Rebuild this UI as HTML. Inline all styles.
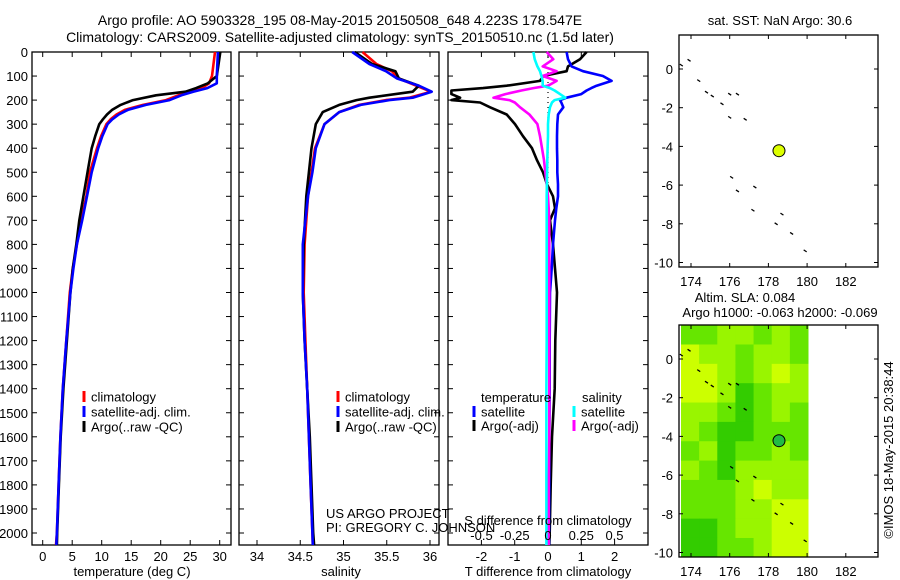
<!DOCTYPE html>
<html><head><meta charset="utf-8">
<style>
html,body{margin:0;padding:0;background:#fff;}
svg{display:block;font-family:"Liberation Sans",sans-serif;}
text{fill:#000;}
</style></head>
<body>
<svg id="c" width="900" height="580" viewBox="0 0 900 580" xmlns="http://www.w3.org/2000/svg">
<text x="340" y="25" font-size="14" text-anchor="middle">Argo profile: AO 5903328_195 08-May-2015 20150508_648 4.223S 178.547E</text>
<text x="340" y="42" font-size="14" text-anchor="middle">Climatology: CARS2009. Satellite-adjusted climatology: synTS_20150510.nc (1.5d later)</text>
<g id="g"></g>
</svg>
<script>
// ---------- data ----------
const depthTicks=[0,100,200,300,400,500,600,700,800,900,1000,1100,1200,1300,1400,1500,1600,1700,1800,1900,2000];
const tempTicks=[0,5,10,15,20,25,30];
const salTicks=[34,34.5,35,35.5,36];
const tdTicks=[-2,-1,0,1,2];
const sdTicks=[-0.5,-0.25,0,0.25,0.5];
const sdTickLabels=["-0.5","-0.25","0","0.25","0.5"];

const tDepth=[0,100,130,150,165,180,200,220,240,260,280,300,350,400,500,600,700,800,900,1000,1200,1400,1600,1800,2000,2050];
const tempClim=[29.2,28.7,28.2,27.0,25.0,23.0,20.9,17.0,14.0,12.5,11.5,10.8,9.9,9.2,8.0,7.4,6.5,5.8,5.1,4.6,4.0,3.4,3.0,2.7,2.4,2.25];
const tempSat=[29.7,29.5,29.5,27.9,25.5,23.5,21.5,17.5,14.5,12.9,11.8,11.0,10.1,9.4,8.3,7.5,6.7,5.8,5.2,4.7,4.0,3.4,3.0,2.7,2.4,2.3];
const tempArgo=[30.1,29.5,28.0,26.0,24.2,19.2,15.3,13.2,11.8,10.9,10.2,9.6,8.9,8.3,7.6,6.9,6.2,5.7,5.1,4.7,4.1,3.5,3.05,2.75,2.45,2.4];

const sDepth=[0,50,80,110,140,165,190,200,220,250,300,400,500,600,800,1000,1200,1400,1600,1800,2000,2050];
const salClim=[35.22,35.38,35.56,35.64,35.84,36.01,35.76,35.49,35.18,34.95,34.78,34.67,34.63,34.59,34.55,34.54,34.56,34.58,34.60,34.62,34.64,34.645];
const salSat=[35.10,35.30,35.49,35.62,35.87,36.02,35.80,35.53,35.20,34.95,34.78,34.68,34.64,34.59,34.53,34.53,34.55,34.58,34.60,34.62,34.64,34.645];
const salArgo=[35.13,35.33,35.60,35.64,35.87,35.80,35.30,35.15,34.95,34.76,34.68,34.63,34.60,34.57,34.54,34.53,34.55,34.58,34.61,34.63,34.65,34.66];

const dDepth=[0,30,60,80,100,120,140,150,160,175,190,200,210,230,260,300,350,400,450,500,550,600,650,700,800,900,1000,1200,1400,1600,1800,2000,2050];
const tdArgo=[1.16,0.96,0.6,0.56,-0.15,-0.24,-1.24,-1.95,-2.9,-2.9,-2.64,-2.9,-2.04,-1.74,-1.24,-0.99,-0.75,-0.48,-0.33,-0.15,-0.03,0.15,0.21,0.06,0.15,0.21,0.27,0.22,0.2,0.12,0.08,0.05,0.04];
const tdSat=[0.56,0.6,0.71,1.05,1.65,1.91,1.46,1.3,1.16,1.0,0.56,0.36,0.4,0.46,0.3,0.28,0.27,0.27,0.28,0.28,0.3,0.3,0.25,0.21,0.15,0.11,0.06,0.05,0.05,0.04,0.04,0.03,0.03];
const sdArgo=[-0.01,0.04,-0.04,0.065,-0.04,0.065,0.0,-0.11,-0.2,-0.32,-0.41,-0.29,-0.25,-0.21,-0.14,-0.08,-0.06,-0.045,-0.03,-0.02,-0.01,0,0.005,0.01,0.01,0.01,0.01,0.01,0.01,0.01,0.005,0.005,0.005];
const sdSat=[-0.11,-0.1,-0.08,-0.06,-0.05,-0.04,-0.04,0.015,0.05,0.09,0.13,0.05,0.03,0.015,0.005,0,0,-0.003,-0.005,-0.007,-0.008,-0.01,-0.01,-0.01,-0.01,-0.01,-0.01,-0.01,-0.012,-0.012,-0.012,-0.012,-0.012];

const lonTicks=[174,176,178,180,182];
const latTicks=[0,-2,-4,-6,-8,-10];
const trackLon=[173.5,173.9,174.4,174.8,175.1,175.6,176.0,176.4,176.0,176.8,176.1,176.4,177.3,177.2,178.4,178.7,179.2,179.9];
const trackLat=[0.2,0.45,-0.6,-1.2,-1.4,-1.8,-1.3,-1.3,-2.5,-2.6,-5.6,-6.3,-6.1,-7.3,-8.0,-7.5,-8.5,-9.4];
const floatLon=[178.547];
const floatLat=[-4.223];
// SLA grid (levels 0 dark green..3 yellow), rows from lat 1.75 down in 1deg steps, cols from lon 173.4
const slaGrid=[
[1,1,2,2,1,2,1],
[3,2,2,1,2,2,1],
[3,3,2,1,2,3,2],
[3,3,2,0,1,2,2],
[2,2,1,0,1,2,1],
[2,1,0,0,1,1,1],
[1,2,0,1,1,2,1],
[2,1,0,2,2,2,2],
[1,1,1,2,3,2,2],
[1,1,1,2,2,3,3],
[0,0,1,2,2,3,3],
[0,0,1,1,2,3,3]];

// ---------- helpers ----------
const NS="http://www.w3.org/2000/svg";
const G=document.getElementById('g');
function el(tag,attrs,parent,txt){const e=document.createElementNS(NS,tag);for(const k in attrs)e.setAttribute(k,attrs[k]);if(txt!==undefined)e.textContent=txt;(parent||G).appendChild(e);return e;}
const PT=52,PB=545;
const yD=d=>PT+d*0.2405;
function panelFrame(x0,x1,name){
  const r=el('rect',{x:x0,y:PT,width:x1-x0,height:PB-PT,fill:'none',stroke:'#000','stroke-width':1.3});
  
  
  depthTicks.forEach(d=>{const y=yD(d);
    el('line',{x1:x0,x2:x0+5,y1:y,y2:y,stroke:'#000'});
    el('line',{x1:x1-5,x2:x1,y1:y,y2:y,stroke:'#000'});});
}
function xTicks(xs,labels,ylab,x0,x1){
  xs.forEach((x,i)=>{
    el('line',{x1:x,x2:x,y1:PT,y2:PT+5,stroke:'#000'});
    el('line',{x1:x,x2:x,y1:PB-5,y2:PB,stroke:'#000'});
    if(labels){const t=el('text',{x:x,y:ylab,'font-size':13,'text-anchor':'middle'},G,labels[i]);
      
      }
  });
}
function line(xs,ys,color,name,w){
  const p=xs.map((x,i)=>x.toFixed(1)+','+ys[i].toFixed(1)).join(' ');
  const l=el('polyline',{points:p,fill:'none',stroke:color,'stroke-width':w||2.6,'stroke-linejoin':'round'});
  
  
}
function legend(x,y,color,label,name){
  el('rect',{x:x-1.5,y:y-6,width:3,height:11,fill:color});
  const t=el('text',{x:x+7,y:y+4.5,'font-size':13},G,label);
  
  
}

// depth labels
depthTicks.forEach(d=>{const t=el('text',{x:28,y:yD(d)+5,'font-size':13,'text-anchor':'end'},G,String(d));
  
  });

// ---------- panel 1: temperature ----------
const xT=v=>42.7+v*5.9;
panelFrame(32,231,'temperature-panel');
xTicks(tempTicks.map(xT),tempTicks.map(String),561);
line(tempClim.map(xT),tDepth.map(yD),'#ff0000','temp-climatology-line');
line(tempArgo.map(xT),tDepth.map(yD),'#000','temp-argo-line');
line(tempSat.map(xT),tDepth.map(yD),'#0000ff','temp-satellite-line');
legend(84,397,'#ff0000','climatology','legend-climatology');
legend(84,412,'#0000ff','satellite-adj. clim.','legend-satellite');
legend(84,427,'#000','Argo(..raw -QC)','legend-argo');
{const t=el('text',{x:132,y:576,'font-size':13,'text-anchor':'middle'},G,'temperature (deg C)');}

// ---------- panel 2: salinity ----------
const xS=v=>257+(v-34)*86.5;
panelFrame(239,439,'salinity-panel');
xTicks(salTicks.map(xS),salTicks.map(String),561);
line(salClim.map(xS),sDepth.map(yD),'#ff0000','sal-climatology-line');
line(salArgo.map(xS),sDepth.map(yD),'#000','sal-argo-line');
line(salSat.map(xS),sDepth.map(yD),'#0000ff','sal-satellite-line');
legend(338,397,'#ff0000','climatology','legend-climatology-2');
legend(338,412,'#0000ff','satellite-adj. clim.','legend-satellite-2');
legend(338,427,'#000','Argo(..raw -QC)','legend-argo-2');
{const t=el('text',{x:341,y:576,'font-size':13,'text-anchor':'middle'},G,'salinity');}
{const t=el('text',{x:326,y:518,'font-size':13},G,'US ARGO PROJECT');}
{const t=el('text',{x:326,y:532,'font-size':13},G,'PI: GREGORY C. JOHNSON');}

// ---------- panel 3: differences ----------
const xTD=v=>Math.max(449,548+v*33.3);
const xSD=v=>548+v*133;
panelFrame(448,648,'difference-panel');
xTicks(tdTicks.map(xTD),tdTicks.map(String),561);
el('line',{x1:548,x2:548,y1:yD(0),y2:yD(600),stroke:'#000','stroke-width':1.2,'stroke-dasharray':'1,4'});
line(tdArgo.map(xTD),dDepth.map(yD),'#000','tdiff-argo-line');
line(tdSat.map(xTD),dDepth.map(yD),'#0000ff','tdiff-satellite-line');
line(sdArgo.map(xSD),dDepth.map(yD),'#ff00ff','sdiff-argo-line');
line(sdSat.map(xSD),dDepth.map(yD),'#00ffff','sdiff-satellite-line');
sdTicks.forEach((v,i)=>{const t=el('text',{x:xSD(v),y:540,'font-size':13,'text-anchor':'middle'},G,sdTickLabels[i]);});
{const t=el('text',{x:548,y:525,'font-size':13,'text-anchor':'middle'},G,'S difference from climatology');}
{const t=el('text',{x:548,y:576,'font-size':13,'text-anchor':'middle'},G,'T difference from climatology');}
{const t=el('text',{x:481,y:402,'font-size':13},G,'temperature');}
{const t=el('text',{x:582,y:402,'font-size':13},G,'salinity');}
legend(474,412,'#0000ff','satellite','legend-t-satellite');
legend(474,426,'#000','Argo(-adj)','legend-t-argo');
legend(574,412,'#00ffff','satellite','legend-s-satellite');
legend(574,426,'#ff00ff','Argo(-adj)','legend-s-argo');

// ---------- maps ----------
const MX0=679,MX1=878;
const xL=lon=>691+(lon-174)*19.35;
function mapFrame(y0,y1,lat0y,name){
  const yL=lat=>lat0y-lat*19.35;
  latTicks.forEach(la=>{const y=yL(la);
    el('line',{x1:MX0,x2:MX0+4,y1:y,y2:y,stroke:'#000'});
    el('line',{x1:MX1-4,x2:MX1,y1:y,y2:y,stroke:'#000'});
    const t=el('text',{x:673,y:y+5,'font-size':13,'text-anchor':'end'},G,String(la));
    
    });
  lonTicks.forEach(lo=>{const x=xL(lo);
    el('line',{x1:x,x2:x,y1:y0,y2:y0+4,stroke:'#000'});
    el('line',{x1:x,x2:x,y1:y1-4,y2:y1,stroke:'#000'});
    const t=el('text',{x:x,y:y1+19,'font-size':13,'text-anchor':'middle'},G,String(lo));
    
    });
  return yL;
}
function track(yL){
  trackLon.forEach((lo,i)=>{
    const m=el('line',{x1:xL(lo)-1.5,y1:yL(trackLat[i])-1,x2:xL(lo)+1.5,y2:yL(trackLat[i])+1,stroke:'#000','stroke-width':1.3});
    
    
  });
}
// top map
{const t=el('text',{x:780,y:25,'font-size':13,'text-anchor':'middle'},G,'sat. SST: NaN Argo: 30.6');}
const yTop=mapFrame(35,267,69,'sst-map');
track(yTop);
{const c=el('circle',{cx:xL(floatLon[0]),cy:yTop(floatLat[0]),r:6,fill:'#ddff00',stroke:'#000','stroke-width':1});}
{const r=el('rect',{x:MX0,y:35,width:MX1-MX0,height:232,fill:'none',stroke:'#000','stroke-width':1.3});}

// bottom map
{const t=el('text',{x:745,y:302,'font-size':13,'text-anchor':'middle'},G,'Altim. SLA: 0.084');}
{const t=el('text',{x:780,y:317,'font-size':13,'text-anchor':'middle'},G,'Argo h1000: -0.063 h2000: -0.069');}
const yBot=lat=>359-lat*19.35;
const palette=['#33cc00','#66e600','#99f500','#ccff00'];
const cellW=(808-681)/slaGrid[0].length;
slaGrid.forEach((row,ri)=>{row.forEach((v,ci)=>{
  const top=Math.max(325,yBot(1.75-ri));
  const bot=Math.min(557,yBot(0.75-ri));
  const r=el('rect',{x:681+ci*cellW,y:top,width:cellW+0.5,height:bot-top+0.5,fill:palette[v]});
  
  
});});
mapFrame(325,557,359,'sla-map');
track(yBot);
{const c=el('circle',{cx:xL(floatLon[0]),cy:yBot(floatLat[0]),r:6,fill:'#22bb44',stroke:'#000','stroke-width':1});}
{const r=el('rect',{x:MX0,y:325,width:MX1-MX0,height:232,fill:'none',stroke:'#000','stroke-width':1.3});}
{const t=el('text',{x:0,y:0,'font-size':13,'text-anchor':'middle',transform:'translate(893,450) rotate(-90)'},G,'©IMOS 18-May-2015 20:38:44');}
</script>
</body></html>
